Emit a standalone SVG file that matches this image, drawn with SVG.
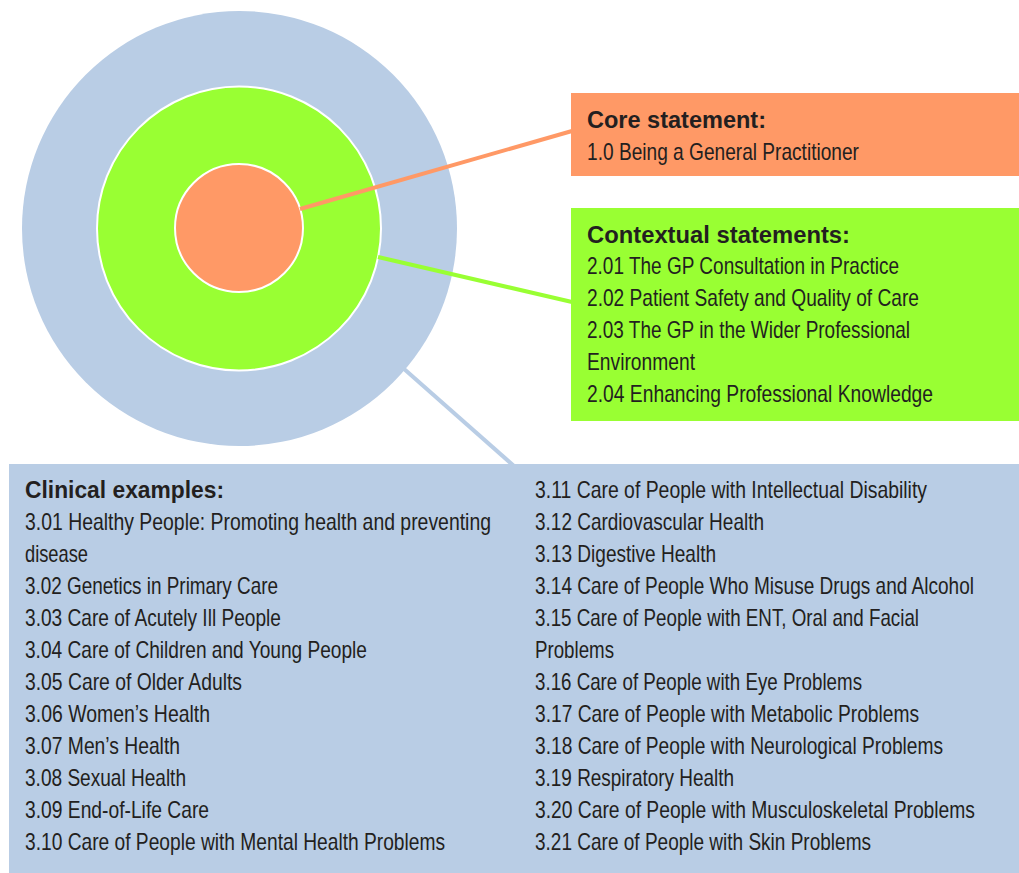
<svg xmlns="http://www.w3.org/2000/svg" width="1019" height="873" viewBox="0 0 1019 873">
<style>
.t{font-family:"Liberation Sans",Arial,sans-serif;font-size:23px;fill:#231f20}
.h{font-family:"Liberation Sans",Arial,sans-serif;font-size:23px;font-weight:bold;fill:#231f20}
.c{fill:none;stroke-width:4}
</style>
<rect width="1019" height="873" fill="#ffffff"/>
<g id="rings">
<circle cx="239.5" cy="228.5" r="217.5" fill="#b9cde5"/>
<circle cx="239" cy="228.5" r="142" fill="#99ff33" stroke="#ffffff" stroke-width="2"/>
<circle cx="239" cy="228" r="64" fill="#ff9966" stroke="#ffffff" stroke-width="2"/>
</g>
<g id="connectors">
<line class="c" x1="300" y1="209" x2="572" y2="131" stroke="#ff9966"/>
<line class="c" x1="378" y1="257" x2="572" y2="302" stroke="#99ff33"/>
<line class="c" x1="403" y1="368" x2="514" y2="466" stroke="#b9cde5"/>
</g>
<g id="core">
<rect x="571" y="93" width="448" height="83" fill="#ff9966"/>
<text class="h" x="587" y="128.3" textLength="179" lengthAdjust="spacingAndGlyphs">Core statement:</text>
<g transform="translate(587,0) scale(0.83,1)">
<text class="t" x="0" y="160.5" textLength="327.7" lengthAdjust="spacingAndGlyphs">1.0 Being a General Practitioner</text>
</g>
</g>
<g id="contextual">
<rect x="571" y="208" width="448" height="213" fill="#99ff33"/>
<text class="h" x="587" y="242.5" textLength="263" lengthAdjust="spacingAndGlyphs">Contextual statements:</text>
<g transform="translate(587,0) scale(0.83,1)">
<text class="t" x="0" y="274.5" textLength="375.9" lengthAdjust="spacingAndGlyphs">2.01 The GP Consultation in Practice</text>
<text class="t" x="0" y="306.5" textLength="400" lengthAdjust="spacingAndGlyphs">2.02 Patient Safety and Quality of Care</text>
<text class="t" x="0" y="338.5" textLength="389.2" lengthAdjust="spacingAndGlyphs">2.03 The GP in the Wider Professional</text>
<text class="t" x="0" y="370.5" textLength="130.1" lengthAdjust="spacingAndGlyphs">Environment</text>
<text class="t" x="0" y="402.5" textLength="416.9" lengthAdjust="spacingAndGlyphs">2.04 Enhancing Professional Knowledge</text>
</g>
</g>
<g id="clinical">
<rect x="9" y="464" width="1010" height="409" fill="#b9cde5"/>
<text class="h" x="25" y="498.3" textLength="199" lengthAdjust="spacingAndGlyphs">Clinical examples:</text>
<g transform="translate(25,0) scale(0.83,1)">
<text class="t" x="0" y="530.3" textLength="561.4" lengthAdjust="spacingAndGlyphs">3.01 Healthy People: Promoting health and preventing</text>
<text class="t" x="0" y="562.3" textLength="75.9" lengthAdjust="spacingAndGlyphs">disease</text>
<text class="t" x="0" y="594.3" textLength="304.8" lengthAdjust="spacingAndGlyphs">3.02 Genetics in Primary Care</text>
<text class="t" x="0" y="626.3" textLength="308.4" lengthAdjust="spacingAndGlyphs">3.03 Care of Acutely Ill People</text>
<text class="t" x="0" y="658.3" textLength="412" lengthAdjust="spacingAndGlyphs">3.04 Care of Children and Young People</text>
<text class="t" x="0" y="690.3" textLength="261.4" lengthAdjust="spacingAndGlyphs">3.05 Care of Older Adults</text>
<text class="t" x="0" y="722.3" textLength="222.9" lengthAdjust="spacingAndGlyphs">3.06 Women’s Health</text>
<text class="t" x="0" y="754.3" textLength="186.7" lengthAdjust="spacingAndGlyphs">3.07 Men’s Health</text>
<text class="t" x="0" y="786.3" textLength="194" lengthAdjust="spacingAndGlyphs">3.08 Sexual Health</text>
<text class="t" x="0" y="818.3" textLength="221.7" lengthAdjust="spacingAndGlyphs">3.09 End-of-Life Care</text>
<text class="t" x="0" y="850.3" textLength="506" lengthAdjust="spacingAndGlyphs">3.10 Care of People with Mental Health Problems</text>
</g>
<g transform="translate(535,0) scale(0.83,1)">
<text class="t" x="0" y="498.3" textLength="472.3" lengthAdjust="spacingAndGlyphs">3.11 Care of People with Intellectual Disability</text>
<text class="t" x="0" y="530.3" textLength="275.9" lengthAdjust="spacingAndGlyphs">3.12 Cardiovascular Health</text>
<text class="t" x="0" y="562.3" textLength="218.1" lengthAdjust="spacingAndGlyphs">3.13 Digestive Health</text>
<text class="t" x="0" y="594.3" textLength="528.9" lengthAdjust="spacingAndGlyphs">3.14 Care of People Who Misuse Drugs and Alcohol</text>
<text class="t" x="0" y="626.3" textLength="462.7" lengthAdjust="spacingAndGlyphs">3.15 Care of People with ENT, Oral and Facial</text>
<text class="t" x="0" y="658.3" textLength="95.2" lengthAdjust="spacingAndGlyphs">Problems</text>
<text class="t" x="0" y="690.3" textLength="394" lengthAdjust="spacingAndGlyphs">3.16 Care of People with Eye Problems</text>
<text class="t" x="0" y="722.3" textLength="462.7" lengthAdjust="spacingAndGlyphs">3.17 Care of People with Metabolic Problems</text>
<text class="t" x="0" y="754.3" textLength="491.6" lengthAdjust="spacingAndGlyphs">3.18 Care of People with Neurological Problems</text>
<text class="t" x="0" y="786.3" textLength="239.8" lengthAdjust="spacingAndGlyphs">3.19 Respiratory Health</text>
<text class="t" x="0" y="818.3" textLength="530.1" lengthAdjust="spacingAndGlyphs">3.20 Care of People with Musculoskeletal Problems</text>
<text class="t" x="0" y="850.3" textLength="404.8" lengthAdjust="spacingAndGlyphs">3.21 Care of People with Skin Problems</text>
</g>
</g>
</svg>
